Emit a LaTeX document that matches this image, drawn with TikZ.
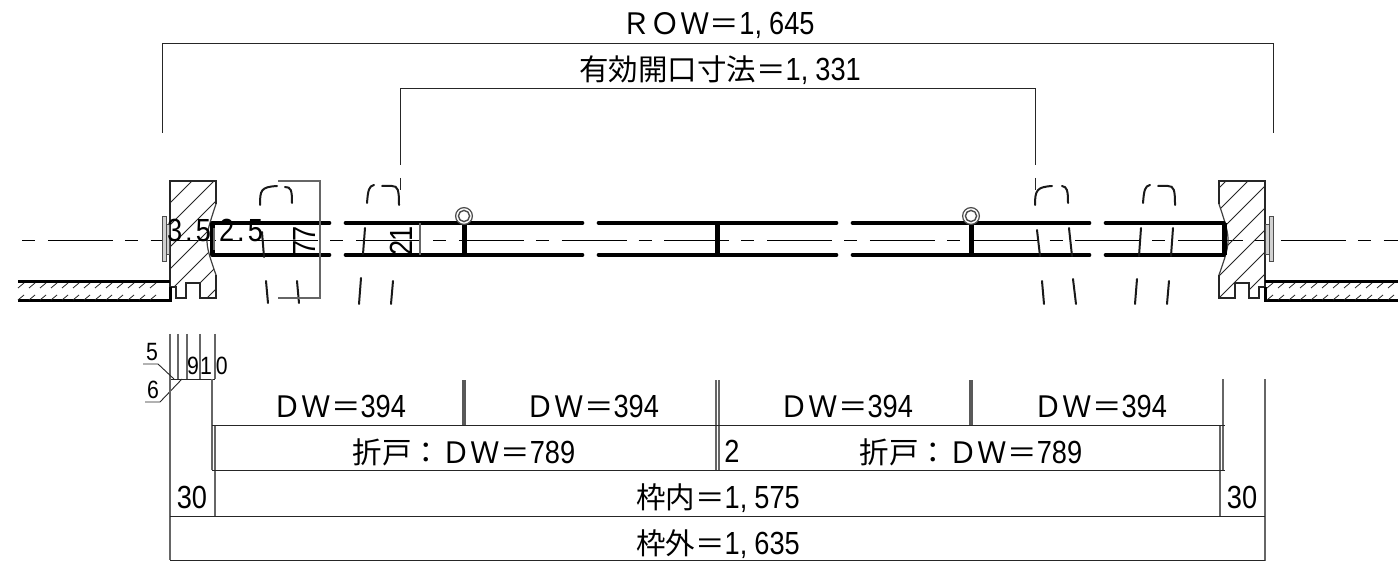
\documentclass[tikz,border=0pt]{standalone}
\usepackage{fontspec}
\setmainfont{Noto Sans CJK JP}
\newfontfamily\dgfont[FakeStretch=0.85]{Liberation Sans}
\newcommand{\bigtxt}{\fontsize{29.5}{32}\selectfont}
\newcommand{\dg}[1]{{\fontsize{32}{34}\dgfont #1}}
\newcommand{\sdg}[1]{{\fontsize{25}{27}\dgfont #1}}
\newcommand{\cm}{,\kern7pt}
\begin{document}
\begin{tikzpicture}[x=1pt,y=-1pt,
  dimline/.style={line width=0.9pt,color=black!85},
  extline/.style={line width=1.3pt,color=black!60},
  dblline/.style={line width=1.5pt,color=black!60},
  barline/.style={line width=3.2pt,color=black!65},
  doorline/.style={line width=3.6pt,color=black,line cap=round},
  postline/.style={line width=5pt,color=black},
  brkline/.style={line width=2pt,color=black!90,line cap=round},
  jambline/.style={line width=1.9pt,color=black!85,line join=miter},
  wallline/.style={line width=3pt,color=black},
  hatline/.style={line width=0.8pt,color=black!85},
  plate/.style={line width=1pt,draw=black!70,fill=black!18},
  txt/.style={inner sep=0pt,font=\bigtxt,text=black}]
\useasboundingbox (0,0) rectangle (1398,561);
\fill[white] (0,0) rectangle (1398,561);

% centre line
\draw[line width=0.9pt,dash pattern=on 65pt off 12pt on 13pt off 12.75pt,dash phase=77pt] (22,240) -- (1398,240);

% top dimensions
\draw[dimline] (162,133) -- (162,43) -- (1273,43) -- (1273,133);
\draw[dimline] (400,165) -- (400,88) -- (1035,88) -- (1035,165);
\draw[dimline] (400,178) -- (400,190);
\draw[dimline] (1035,178) -- (1035,190);
\node[txt] (row) at (718,25) {ＲＯＷ＝\dg{1\cm 645}};
\node[txt] (yuko) at (720,70) {有効開口寸法＝\dg{1\cm 331}};

% left jamb
\begin{scope}
\clip (170,181) -- (216,181) -- (216,204) .. controls (209,225) and (207,232) .. (207,240) .. controls (207,248) and (209,255) .. (216,275) -- (216,298) -- (200,298) -- (200,283) -- (186,283) -- (186,298) -- (176,298) -- (176,287) -- (170,287) -- cycle;
\foreach \c in {351,373,...,521} \draw[hatline] (\c-130,130) -- (\c-320,320);
\end{scope}
\draw[jambline] (170,181) -- (216,181) -- (216,204);
\draw[line width=1.2pt,color=black!75] (216,204) .. controls (209,225) and (207,232) .. (207,240) .. controls (207,248) and (209,255) .. (216,275);
\draw[jambline] (216,275) -- (216,298) -- (200,298) -- (200,283) -- (186,283) -- (186,298) -- (176,298) -- (176,287) -- (170,287) -- (170,180);

% right jamb
\begin{scope}
\clip (1265,181) -- (1219,181) -- (1219,204) .. controls (1226,225) and (1228,232) .. (1228,240) .. controls (1228,248) and (1226,255) .. (1219,275) -- (1219,298) -- (1235,298) -- (1235,283) -- (1249,283) -- (1249,298) -- (1259,298) -- (1259,287) -- (1265,287) -- cycle;
\foreach \c in {1407,1429,...,1577} \draw[hatline] (\c-130,130) -- (\c-320,320);
\end{scope}
\draw[jambline] (1265,181) -- (1219,181) -- (1219,204);
\draw[line width=1.2pt,color=black!75] (1219,204) .. controls (1226,225) and (1228,232) .. (1228,240) .. controls (1228,248) and (1226,255) .. (1219,275);
\draw[jambline] (1219,275) -- (1219,298) -- (1235,298) -- (1235,283) -- (1249,283) -- (1249,298) -- (1259,298) -- (1259,287) -- (1265,287) -- (1265,180);

% plates
\draw[plate] (162,217) rectangle (166,262);
\draw[plate] (166,225) rectangle (169.5,255);
\draw[plate] (1273,217) rectangle (1269,262);
\draw[plate] (1269,225) rectangle (1265.5,255);

% walls
\draw[wallline] (18,282) -- (170,282);
\draw[wallline] (18,301) -- (170,301) -- (170,287);
\draw[wallline] (1265,282) -- (1398,282);
\draw[wallline] (1398,301) -- (1265,301) -- (1265,287);
\foreach \x in {18,29,...,160} {
  \draw[hatline] (\x,288) -- (\x+6,283);
  \draw[hatline] (\x,300) -- (\x+6,295);
}
\foreach \x in {1267,1278,...,1390} {
  \draw[hatline] (\x,288) -- (\x+6,283);
  \draw[hatline] (\x,300) -- (\x+6,295);
}

% door leaves
\foreach \a/\b in {212/329.5,345.5/582.5,598.5/836.5,852.5/1089.5,1105.5/1224} {
  \draw[doorline] (\a,223) -- (\b,223);
  \draw[doorline] (\a,255) -- (\b,255);
}
\foreach \x in {212,464,717,971,1224} \draw[postline] (\x,223) -- (\x,255);
\foreach \x in {464,971} {
  \draw[line width=1.2pt,color=black!70,fill=white] (\x,216) circle (8.4);
  \draw[line width=1.4pt,color=black!70] (\x,216) circle (5.6);
}

% break marks
\draw[brkline] (260,205) .. controls (260,190) and (261,187) .. (277,186);
\draw[brkline] (285,187) .. controls (291,187) and (292,190) .. (292,203);
\draw[brkline] (262,232) -- (264,257);
\draw[brkline] (266,281) -- (268,303);
\draw[brkline] (297,281) -- (299,303);
\draw[brkline] (367,203) .. controls (368,190) and (369,186) .. (374,185);
\draw[brkline] (382,186) -- (392,186) .. controls (398,186) and (399,190) .. (399,205);
\draw[brkline] (365,228) -- (363,254);
\draw[brkline] (361,278) -- (359,304);
\draw[brkline] (393,281) -- (391,304);
\draw[brkline] (1035,205) .. controls (1035,190) and (1037,187) .. (1052,186);
\draw[brkline] (1062,186) .. controls (1067,187) and (1068,190) .. (1068,203);
\draw[brkline] (1037,230) -- (1040,256);
\draw[brkline] (1069,228) -- (1072,256);
\draw[brkline] (1042,281) -- (1044,304);
\draw[brkline] (1073,279) -- (1076,304);
\draw[brkline] (1143,203) .. controls (1144,190) and (1145,186) .. (1150,185);
\draw[brkline] (1158,186) -- (1168,186) .. controls (1174,186) and (1175,190) .. (1175,205);
\draw[brkline] (1141,228) -- (1139,256);
\draw[brkline] (1173,228) -- (1171,256);
\draw[brkline] (1137,279) -- (1135,304);
\draw[brkline] (1169,281) -- (1167,304);

% section dimensions
\draw[extline] (278,181) -- (320,181) -- (320,298) -- (278,298);
\draw[extline] (420,223) -- (420,255);
\draw[extline] (214,228) -- (214,250);
\node[inner sep=0pt,rotate=90] (d77) at (304,241) {\dg{7\kern-2pt 7}};
\node[inner sep=0pt,rotate=90] (d21) at (401,241) {\dg{2\kern-2pt 1}};
\node[inner sep=0pt] (d35) at (189,230) {\dg{3\kern3pt.\kern3pt5}};
\node[inner sep=0pt] (d25) at (241,230) {\dg{2\kern3pt.\kern3pt5}};

% bottom dimensions
\foreach \x in {170,178,187,200,215} \draw[extline] (\x,334) -- (\x,379);
\draw[dimline] (170,379) -- (215,379);
\draw[dimline] (143,364) -- (158,364) -- (174,379);
\draw[dimline] (145,402) -- (160,402) -- (182,379);
\node[inner sep=0pt] (l5) at (152,352) {\sdg{5}};
\node[inner sep=0pt] (l6) at (153,390) {\sdg{6}};
\node[inner sep=0pt] (l9) at (193,366) {\sdg{9}};
\node[inner sep=0pt] (l10) at (214,366) {\sdg{1\kern4pt 0}};

\draw[extline] (170,379) -- (170,560);
\draw[extline] (1265,379) -- (1265,561);
\draw[extline] (212,379) -- (212,470);
\draw[extline] (215,425) -- (215,516);
\draw[extline] (1223,379) -- (1223,470);
\draw[extline] (1220,425) -- (1220,516);
\draw[barline] (464,380) -- (464,425);
\draw[barline] (971,380) -- (971,425);
\draw[dblline] (716,380) -- (716,470);
\draw[dblline] (719,380) -- (719,470);
\draw[dimline] (212,425) -- (1225,425);
\draw[dimline] (212,470) -- (1225,470);
\draw[dimline] (170,516) -- (1265,516);
\draw[dimline] (170,560) -- (1265,560);

\node[txt] (dw1) at (339,406) {ＤＷ＝\dg{394}};
\node[txt] (dw2) at (592,406) {ＤＷ＝\dg{394}};
\node[txt] (dw3) at (846,406) {ＤＷ＝\dg{394}};
\node[txt] (dw4) at (1100,406) {ＤＷ＝\dg{394}};
\node[txt] (oa) at (464,452) {折戸：ＤＷ＝\dg{789}};
\node[txt] (ob) at (971,452) {折戸：ＤＷ＝\dg{789}};
\node[inner sep=0pt] (two) at (732,451) {\dg{2}};
\node[inner sep=0pt] (t30a) at (192,497) {\dg{30}};
\node[inner sep=0pt] (t30b) at (1242,497) {\dg{30}};
\node[txt] (inner) at (718,498) {枠内＝\dg{1\cm 575}};
\node[txt] (outer) at (718,544) {枠外＝\dg{1\cm 635}};
\end{tikzpicture}
\end{document}
